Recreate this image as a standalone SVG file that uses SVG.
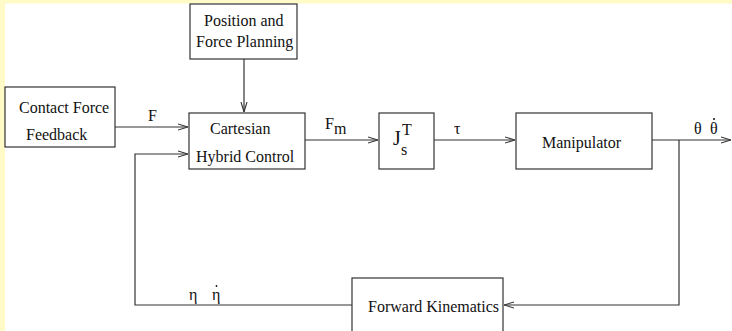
<svg xmlns="http://www.w3.org/2000/svg" width="732" height="331" viewBox="0 0 732 331">
<style>
.box{fill:#fff;stroke:#333;stroke-width:1.2}
.ln{fill:none;stroke:#333;stroke-width:1.2}
.t{font-family:"Liberation Serif","Times New Roman",serif;font-size:16px;fill:#111}
.dot{fill:#111}
</style>
<defs>
<marker id="ah" viewBox="0 0 10 8" refX="10" refY="4" markerWidth="10" markerHeight="8" markerUnits="userSpaceOnUse" orient="auto">
<path d="M0,1 L10,4 L0,7" fill="none" stroke="#333" stroke-width="1.1"/>
</marker>
</defs>
<rect x="0" y="0" width="732" height="331" fill="#fff"/>
<rect x="0" y="0" width="732" height="3.5" fill="#fffac6"/>
<rect x="0" y="0" width="5" height="331" fill="#fffac6"/>
<g id="connectors">
<path class="ln" d="M244,59 V112" marker-end="url(#ah)"/>
<path class="ln" d="M115,127 H188" marker-end="url(#ah)"/>
<path class="ln" d="M305,140 H378" marker-end="url(#ah)"/>
<path class="ln" d="M434,140 H515" marker-end="url(#ah)"/>
<path class="ln" d="M652,140 H731" marker-end="url(#ah)"/>
<path class="ln" d="M679,140 V305 H504" marker-end="url(#ah)"/>
<path class="ln" d="M352,305 H135 V154 H188" marker-end="url(#ah)"/>
<text class="t" x="148" y="121">F</text>
<text class="t" x="325" y="129">F</text>
<text class="t" x="334" y="134">m</text>
<text class="t" x="454" y="134">τ</text>
<text class="t" x="694" y="134">θ</text>
<text class="t" x="710" y="134">θ</text>
<circle class="dot" cx="714" cy="119" r="1"/>
<text class="t" x="189" y="300">η</text>
<text class="t" x="212" y="300">η</text>
<circle class="dot" cx="216.5" cy="286" r="0.9"/>
</g>
<g id="planning">
<rect class="box" x="190" y="4" width="107" height="55"/>
<text class="t" x="204" y="26">Position and</text>
<text class="t" x="196" y="47">Force Planning</text>
</g>
<g id="contact">
<rect class="box" x="5" y="87" width="110" height="60"/>
<text class="t" x="19" y="113">Contact Force</text>
<text class="t" x="26" y="140">Feedback</text>
</g>
<g id="cartesian">
<rect class="box" x="189" y="113" width="116" height="56"/>
<text class="t" x="210" y="134">Cartesian</text>
<text class="t" x="196" y="162">Hybrid Control</text>
</g>
<g id="jacobian">
<rect class="box" x="379" y="113" width="55" height="56"/>
<text class="t" x="402" y="135">T</text>
<text class="t" x="393" y="145" style="font-size:20px">J</text>
<text class="t" x="401" y="155">s</text>
</g>
<g id="manipulator">
<rect class="box" x="516" y="113" width="136" height="56"/>
<text class="t" x="542" y="148">Manipulator</text>
</g>
<g id="fk">
<rect class="box" x="352" y="278" width="151" height="60"/>
<text class="t" x="368" y="312">Forward Kinematics</text>
</g>
</svg>
